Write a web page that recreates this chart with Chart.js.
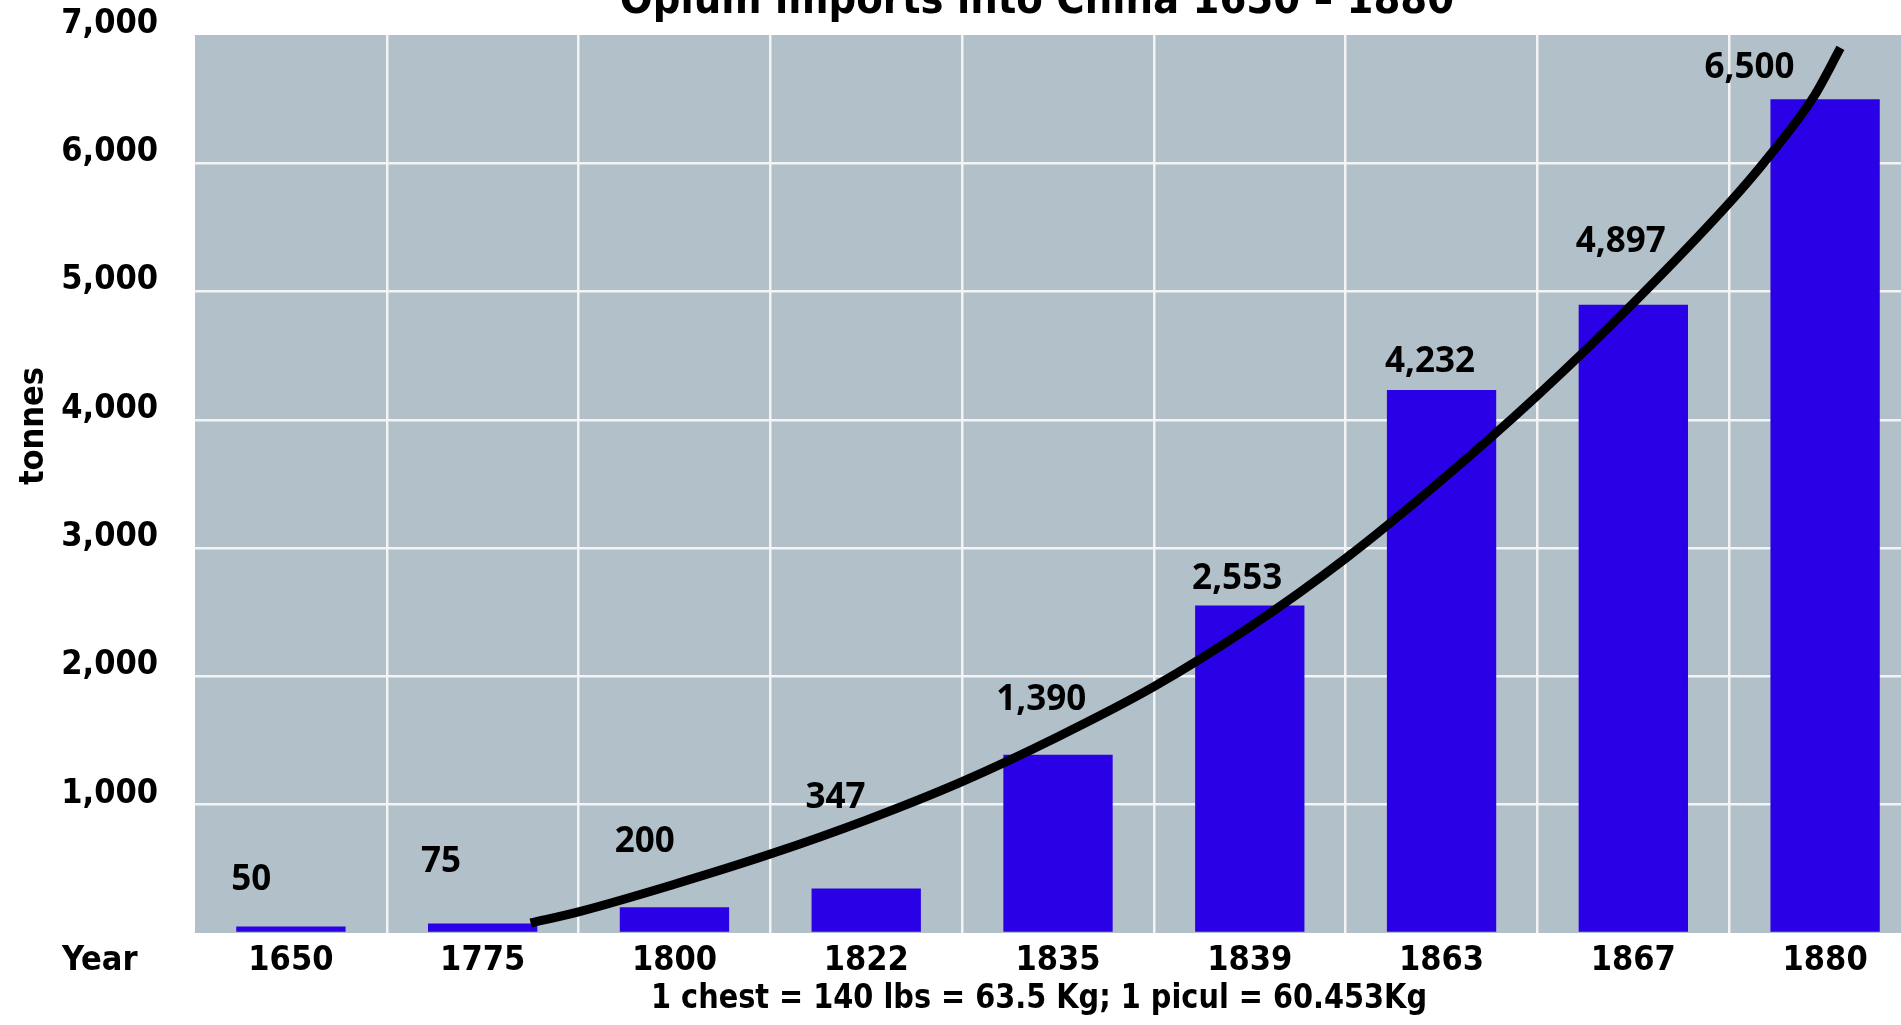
<!DOCTYPE html>
<html>
<head>
<meta charset="utf-8">
<title>Opium imports into China 1650 – 1880</title>
<script src="https://cdn.jsdelivr.net/npm/chart.js@4/dist/chart.umd.min.js"></script>
<style>
    html, body { margin: 0; padding: 0; background: #ffffff; overflow: hidden; }
    canvas { display: block; }
</style>
</head>
<body>
<canvas id="opiumChart" width="1921" height="1025"></canvas>
<script>
// Years shown on the x axis
const years = ['1650', '1775', '1800', '1822', '1835', '1839', '1863', '1867', '1880'];
// Opium imports in tonnes
const tonnes = [50, 75, 200, 347, 1390, 2553, 4232, 4897, 6500];
// Trend curve (x in category index units, y in tonnes)
const trendX = [1.25, 1.5, 2.0, 2.5, 3.0, 3.5, 4.0, 4.5, 5.0, 5.5, 6.0, 6.5, 7.0, 7.5, 7.7, 7.94, 8.08];
const trendY = [78, 165, 380, 615, 880, 1180, 1530, 1920, 2385, 2920, 3530, 4190, 4910, 5690, 6040, 6517, 6899];
// Y axis ticks
const yTicks = [0, 1000, 2000, 3000, 4000, 5000, 6000, 7000];

const titleText = 'Opium imports into China 1650 – 1880';
const footText = '1 chest = 140 lbs = 63.5 Kg; 1 picul = 60.453Kg';

// label placement (pixels): shift from bar left, lift of baseline above bar top
const labelDx = [-5, -7, -5, -6, -7, -3, -2, -3, -66];
const labelLift = [37, 51, 55, 80, 45, 16, 18, 53, 21];

const axisFamily = '"DejaVu Sans Condensed", "DejaVu Sans", sans-serif';
const axisFont = { family: axisFamily, size: 34, weight: 'bold' };
const labelFont = 'bold 35px "Open Sans", sans-serif';

// Plot background + free text (title, axis names, value labels)
const decorations = {
    id: 'decorations',
    beforeDraw(chart) {
        const { ctx, chartArea } = chart;
        ctx.save();
        ctx.fillStyle = '#b2c0c9';
        ctx.fillRect(chartArea.left, chartArea.top, chartArea.right - chartArea.left, chartArea.bottom - chartArea.top);
        ctx.restore();
    },
    afterDraw(chart) {
        const { ctx } = chart;
        ctx.save();
        ctx.fillStyle = '#000000';
        ctx.textBaseline = 'alphabetic';

        // title (partly cut off at the top)
        ctx.font = 'bold 43px ' + axisFamily;
        ctx.textAlign = 'center';
        ctx.fillText(titleText, 1037, 13);

        // footer note, squeezed a little to the reference width
        ctx.font = 'bold 34px ' + axisFamily;
        const w = ctx.measureText(footText).width;
        ctx.save();
        ctx.translate(1039, 1008);
        ctx.scale(Math.min(1, 776 / w), 1);
        ctx.fillText(footText, 0, 0);
        ctx.restore();

        // "Year" in the tick row
        ctx.textAlign = 'left';
        ctx.fillText('Year', 62, 970);

        // y axis name
        ctx.save();
        ctx.translate(43, 426);
        ctx.rotate(-Math.PI / 2);
        ctx.textAlign = 'center';
        ctx.fillText('tonnes', 0, 0);
        ctx.restore();

        // value labels
        const meta = chart.getDatasetMeta(1);
        ctx.font = labelFont;
        ctx.textAlign = 'left';
        meta.data.forEach((bar, i) => {
            const left = bar.x - bar.width / 2;
            ctx.fillText(tonnes[i].toLocaleString('en-US'), left + labelDx[i], bar.y - labelLift[i]);
        });
        ctx.restore();
    }
};

const ctx = document.getElementById('opiumChart').getContext('2d');
new Chart(ctx, {
    type: 'bar',
    data: {
        labels: years,
        datasets: [
            {
                type: 'line',
                label: 'trend',
                data: trendX.map((x, i) => ({ x: x, y: trendY[i] })),
                xAxisID: 'xt',
                borderColor: '#000000',
                borderWidth: 9,
                borderCapStyle: 'butt',
                cubicInterpolationMode: 'monotone',
                pointRadius: 0,
                fill: false,
                order: 0
            },
            {
                type: 'bar',
                label: 'tonnes',
                data: tonnes,
                backgroundColor: '#2a00e6',
                grouped: false,
                barPercentage: 0.57,
                categoryPercentage: 1,
                order: 1
            }
        ]
    },
    options: {
        responsive: false,
        animation: false,
        layout: { padding: { top: 35, left: 0, right: 0, bottom: 0 } },
        plugins: {
            legend: { display: false },
            tooltip: { enabled: false },
            title: { display: false }
        },
        scales: {
            x: {
                type: 'category',
                offset: true,
                grid: {
                    offset: true,
                    drawTicks: false,
                    lineWidth: 2.5,
                    color: c => (c.index === 0 || c.index === years.length) ? 'rgba(0,0,0,0)' : '#f4f4f4'
                },
                border: { display: false },
                ticks: { color: '#000000', font: axisFont, padding: 8, maxRotation: 0 },
                afterFit: s => { s.height = 92; s.paddingLeft = 0; s.paddingRight = 0; }
            },
            xt: {
                type: 'linear',
                display: false,
                offset: false,
                grid: { offset: false },
                min: -0.5,
                max: years.length - 0.5
            },
            y: {
                min: 0,
                max: 7000,
                afterBuildTicks: s => { s.ticks = yTicks.map(v => ({ value: v })); },
                grid: {
                    drawTicks: false,
                    lineWidth: 2.5,
                    color: c => (c.tick && (c.tick.value === 0 || c.tick.value === 7000)) ? 'rgba(0,0,0,0)' : '#f4f4f4'
                },
                border: { display: false },
                ticks: {
                    color: '#000000',
                    font: axisFont,
                    padding: 37,
                    labelOffset: -11,
                    callback: v => v === 0 ? '' : v.toLocaleString('en-US')
                },
                afterFit: s => { s.width = 195; s.paddingTop = 0; s.paddingBottom = 0; }
            }
        }
    },
    plugins: [decorations]
});
</script>
</body>
</html>
